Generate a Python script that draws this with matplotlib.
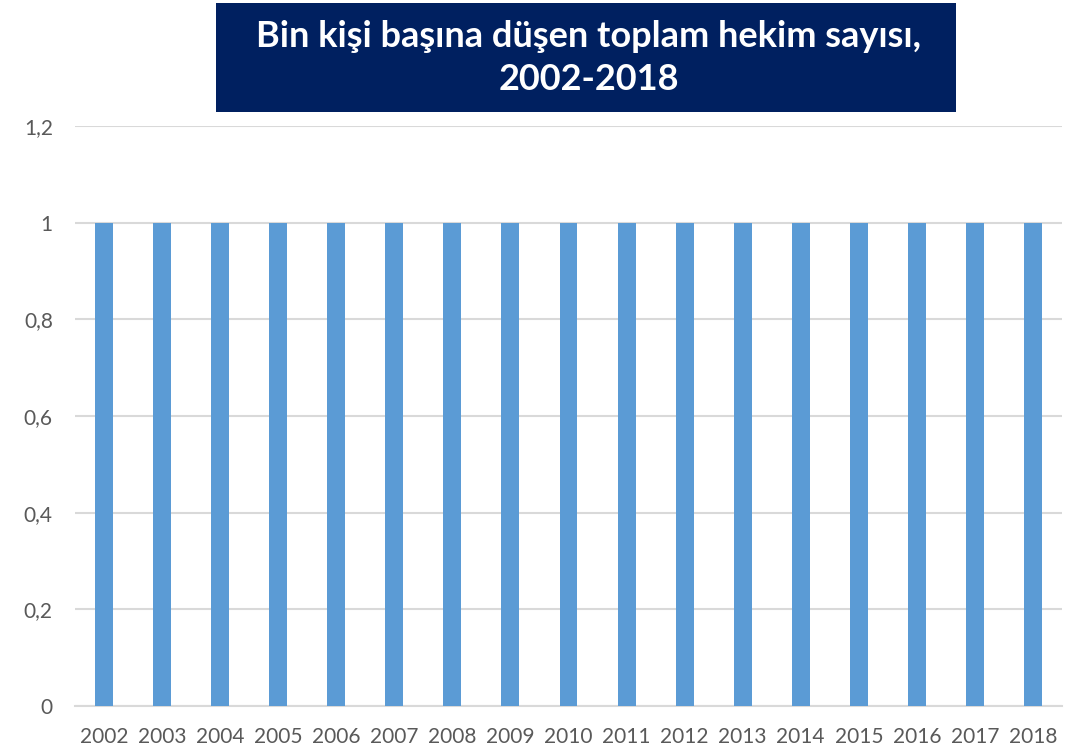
import numpy as np
import matplotlib.pyplot as plt
from matplotlib.patches import Rectangle

years = [str(y) for y in range(2002, 2019)]
values = [1, 1, 1, 1, 1, 1, 1, 1, 1, 1, 1, 1, 1, 1, 1, 1, 1]
yticks = [0, 0.2, 0.4, 0.6, 0.8, 1, 1.2]
ytick_labels = ['0', '0,2', '0,4', '0,6', '0,8', '1', '1,2']
title = 'Bin kişi başına düşen toplam hekim sayısı,\n2002-2018'

plt.rcParams['font.family'] = ['Lato', 'DejaVu Sans']

fig = plt.figure(figsize=(10.87, 7.5), dpi=100)
ax = fig.add_axes([75 / 1087, 44 / 750, 987 / 1087, 580 / 750])

x = np.arange(len(years))
ax.bar(x, values, width=0.31, color='#5b9bd5', zorder=3)

ax.set_xlim(-0.5, len(years) - 0.5)
ax.set_ylim(0, 1.2)
ax.set_yticks(yticks)
ax.set_yticklabels(ytick_labels)
ax.set_xticks(x)
ax.set_xticklabels(years)
ax.yaxis.grid(True, color='#d9d9d9', linewidth=1.5, zorder=0)
ax.tick_params(axis='both', length=0, labelsize=15, labelcolor='#595959')
ax.tick_params(axis='y', pad=16)
ax.tick_params(axis='x', pad=15)
for s in ['top', 'right', 'left']:
    ax.spines[s].set_visible(False)
ax.spines['bottom'].set_color('#d9d9d9')
ax.spines['bottom'].set_linewidth(1.5)

# title box
fig.patches.append(Rectangle((216 / 1087, 1 - 112 / 750), 740 / 1087, 109 / 750,
                             transform=fig.transFigure, facecolor='#002060',
                             edgecolor='none', zorder=5))
fig.text(589 / 1087, 1 - 58 / 750, title, ha='center', va='center',
         color='white', fontsize=26, fontweight='bold', linespacing=1.4, zorder=6)

plt.savefig('out.png', dpi=100)
